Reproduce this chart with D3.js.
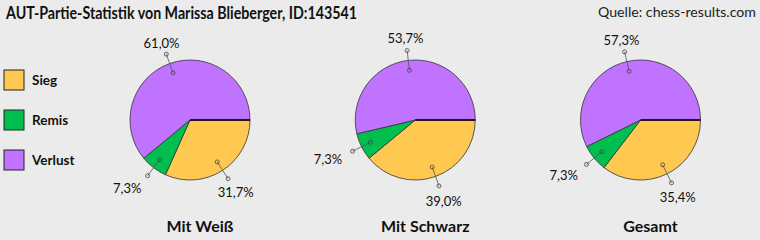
<!DOCTYPE html>
<html>
<head>
<meta charset="utf-8">
<script src="https://cdn.jsdelivr.net/npm/d3@7"></script>
<style>
  body { margin: 0; background: #ebebeb; }
  svg { display: block; }
</style>
</head>
<body>
<div id="chart"></div>
<script>
const categories = ["Sieg", "Remis", "Verlust"];
const charts = ["Mit Weiß", "Mit Schwarz", "Gesamt"];
const sieg = [31.7, 39.0, 35.4];
const remis = [7.3, 7.3, 7.3];
const verlust = [61.0, 53.7, 57.3];
const colors = ["#ffc851", "#00bf4f", "#bf73ff"];

const width = 760, height = 240;
const font = "Lato, 'Open Sans', sans-serif";

const svg = d3.select("#chart")
    .append("svg")
    .attr("width", width)
    .attr("height", height)
    .style("font-family", font);

svg.append("rect")
    .attr("width", width)
    .attr("height", height)
    .attr("fill", "#ebebeb");

svg.append("text")
    .attr("x", 6)
    .attr("y", 19)
    .style("font-size", "16.5px")
    .style("font-weight", "bold")
    .attr("fill", "#111")
    .attr("textLength", 351)
    .attr("lengthAdjust", "spacingAndGlyphs")
    .text("AUT-Partie-Statistik von Marissa Blieberger, ID:143541");

svg.append("text")
    .attr("x", 756)
    .attr("y", 17)
    .attr("text-anchor", "end")
    .style("font-size", "13.5px")
    .attr("fill", "#222")
    .attr("textLength", 158)
    .attr("lengthAdjust", "spacingAndGlyphs")
    .text("Quelle: chess-results.com");

const color = d3.scaleOrdinal().domain(categories).range(colors);

// legend
const legend = svg.append("g")
    .selectAll("g")
    .data(categories)
    .enter()
    .append("g")
    .attr("transform", (d, i) => `translate(4,${70 + i * 40})`);

legend.append("rect")
    .attr("width", 20)
    .attr("height", 20)
    .attr("fill", d => color(d))
    .attr("stroke", "#222")
    .attr("stroke-width", 1);

legend.append("text")
    .attr("x", 28)
    .attr("y", 10)
    .attr("dy", "0.35em")
    .style("font-size", "13.5px")
    .style("font-weight", "bold")
    .attr("fill", "#111")
    .text(d => d);

// pies
const x = d3.scalePoint().domain(charts).range([190, 640.5]);
const cy = 120, r = 60;

const pie = d3.pie()
    .sort(null)
    .value(d => d.value)
    .startAngle(Math.PI / 2)
    .endAngle(Math.PI / 2 + 2 * Math.PI);

const arc = d3.arc().innerRadius(0).outerRadius(r);
const fmt = v => v.toFixed(1).replace(".", ",") + "%";
const pt = (a, rad) => [Math.sin(a) * rad, -Math.cos(a) * rad];

charts.forEach((name, i) => {
    const values = [sieg[i], remis[i], verlust[i]]
        .map((v, j) => ({ cat: categories[j], value: v }));
    const g = svg.append("g")
        .attr("transform", `translate(${x(name)},${cy})`);

    const arcs = pie(values);

    g.selectAll("path")
        .data(arcs)
        .enter()
        .append("path")
        .attr("d", arc)
        .attr("fill", d => color(d.data.cat))
        .attr("stroke", "#333")
        .attr("stroke-width", 0.8);

    g.append("line")
        .attr("x1", 0).attr("y1", 0)
        .attr("x2", r).attr("y2", 0)
        .attr("stroke", "#000")
        .attr("stroke-width", 1.5);

    arcs.forEach(d => {
        const a = (d.startAngle + d.endAngle) / 2;
        const dx = Math.sin(a), dy = -Math.cos(a);
        const p1 = pt(a, 50), p2 = pt(a, 70);
        g.append("line")
            .attr("x1", p1[0]).attr("y1", p1[1])
            .attr("x2", p2[0]).attr("y2", p2[1])
            .attr("stroke", "#555")
            .attr("stroke-width", 0.8);
        [p1, p2].forEach(p => {
            g.append("circle")
                .attr("cx", p[0]).attr("cy", p[1])
                .attr("r", 2)
                .attr("fill", "none")
                .attr("stroke", "#444")
                .attr("stroke-width", 0.8);
        });
        const lx = p2[0] + dx * 14 + (dx < -0.5 ? -12 : 0);
        const ly = p2[1] + dy * 14 + 2;
        g.append("text")
            .attr("x", lx)
            .attr("y", ly)
            .attr("dy", "0.35em")
            .attr("text-anchor", "middle")
            .style("font-size", "13px")
            .attr("fill", "#111")
            .text(fmt(d.data.value));
    });

    svg.append("text")
        .attr("x", x(name) + 10)
        .attr("y", 232)
        .attr("text-anchor", "middle")
        .style("font-size", "16px")
        .style("font-weight", "bold")
        .attr("fill", "#111")
        .text(name);
});
</script>
</body>
</html>
